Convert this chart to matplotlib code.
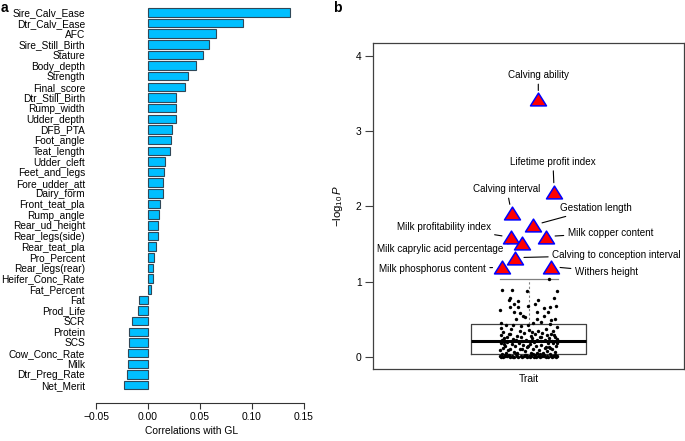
import matplotlib.pyplot as plt
import numpy as np
from matplotlib.path import Path

plt.rcParams['font.family'] = ['Liberation Sans', 'DejaVu Sans']
plt.rcParams['mathtext.fontset'] = 'custom'
plt.rcParams['mathtext.rm'] = 'Liberation Sans'
plt.rcParams['mathtext.it'] = 'Liberation Sans:italic'

# panel a: correlations with GL
traits = ['Sire_Calv_Ease', 'Dtr_Calv_Ease', 'AFC', 'Sire_Still_Birth', 'Stature',
          'Body_depth', 'Strength', 'Final_score', 'Dtr_Still_Birth', 'Rump_width',
          'Udder_depth', 'DFB_PTA', 'Foot_angle', 'Teat_length', 'Udder_cleft',
          'Feet_and_legs', 'Fore_udder_att', 'Dairy_form', 'Front_teat_pla', 'Rump_angle',
          'Rear_ud_height', 'Rear_legs(side)', 'Rear_teat_pla', 'Pro_Percent',
          'Rear_legs(rear)', 'Heifer_Conc_Rate', 'Fat_Percent', 'Fat', 'Prod_Life', 'SCR',
          'Protein', 'SCS', 'Cow_Conc_Rate', 'Milk', 'Dtr_Preg_Rate', 'Net_Merit']
corr = [0.137, 0.091, 0.065, 0.059, 0.053, 0.046, 0.038, 0.036, 0.027, 0.027,
        0.027, 0.023, 0.022, 0.021, 0.016, 0.015, 0.014, 0.014, 0.012, 0.011,
        0.010, 0.010, 0.0074, 0.006, 0.005, 0.005, 0.003, -0.0087, -0.010, -0.015,
        -0.018, -0.018, -0.019, -0.019, -0.020, -0.023]

# panel b: significant traits (triangles)
sig_names = ['Calving ability', 'Lifetime profit index', 'Calving interval',
             'Gestation length', 'Milk profitability index', 'Milk copper content',
             'Milk caprylic acid percentage', 'Calving to conception interval',
             'Milk phosphorus content', 'Withers height']
sig_x = [1.031, 1.082, 0.945, 1.015, 0.943, 1.056, 0.978, 0.956, 0.913, 1.072]
sig_p = [3.42, 2.195, 1.91, 1.75, 1.59, 1.60, 1.52, 1.32, 1.19, 1.20]
lab_x = [1.031, 1.078, 0.930, 1.100, 0.878, 1.126, 0.918, 1.076, 0.862, 1.149]
lab_y = [3.745, 2.594, 2.231, 1.975, 1.730, 1.651, 1.434, 1.351, 1.173, 1.133]
lab_ha = ['center', 'center', 'center', 'left', 'right', 'left', 'right', 'left', 'right', 'left']

# panel b: remaining traits (-log10 P) and jitter
p_hi = [1.04, 0.89, 0.89, 0.88, 0.88, 0.79, 0.79, 0.76, 0.75, 0.76, 0.71, 0.70, 0.66, 0.66,
        0.68, 0.65, 0.66, 0.68, 0.62, 0.60, 0.58, 0.55, 0.60, 0.60, 0.51, 0.53, 0.51, 0.54,
        0.51, 0.49, 0.45, 0.43, 0.42, 0.41, 0.42, 0.45, 0.46, 0.44, 0.40, 0.38, 0.37, 0.35,
        0.36, 0.35, 0.37, 0.34]
j_hi = [0.065, -0.085, -0.054, -0.005, 0.09, -0.061, 0.081, -0.064, -0.035, 0.031, -0.048,
        0.019, -0.061, -0.033, -0.002, 0.048, 0.068, 0.087, -0.093, -0.047, -0.029, -0.018,
        0.027, 0.062, -0.042, -0.011, 0.027, 0.048, 0.084, 0.073, -0.088, -0.072, -0.05,
        -0.024, -0.002, 0.014, 0.041, 0.068, 0.091, -0.088, -0.056, -0.029, 0.001, 0.030,
        0.057, 0.079]
p_mid = [0.33, 0.32, 0.32, 0.31, 0.30, 0.30, 0.29, 0.29, 0.28, 0.28, 0.27, 0.27, 0.26, 0.26,
         0.25, 0.25, 0.25, 0.24, 0.24, 0.23, 0.23, 0.22, 0.22, 0.22, 0.21, 0.21, 0.33, 0.31,
         0.29, 0.27]
j_mid = [-0.081, 0.044, -0.015, 0.072, -0.059, 0.022, -0.090, 0.058, -0.037, 0.006, 0.086,
         -0.068, 0.035, -0.026, -0.078, 0.064, 0.012, -0.049, 0.090, -0.008, 0.051, -0.086,
         0.027, -0.040, 0.076, -0.021, 0.011, -0.064, 0.083, 0.040]
p_low = [0.20, 0.20, 0.19, 0.19, 0.18, 0.18, 0.17, 0.17, 0.16, 0.16, 0.15, 0.15, 0.14, 0.14,
         0.13, 0.13, 0.12, 0.12, 0.11, 0.11, 0.10, 0.10, 0.09, 0.09, 0.08, 0.08, 0.07, 0.07,
         0.06, 0.06, 0.05, 0.05, 0.19, 0.15, 0.12, 0.09, 0.06, 0.17, 0.13, 0.10]
j_low = [-0.070, 0.018, 0.061, -0.031, -0.089, 0.079, 0.004, -0.054, 0.041, -0.017, 0.088,
         -0.075, 0.025, -0.044, 0.066, -0.006, -0.083, 0.052, 0.015, -0.061, 0.074, -0.028,
         0.033, -0.092, 0.058, -0.012, -0.048, 0.086, 0.009, -0.073, 0.045, -0.036, 0.092,
         -0.002, 0.070, -0.066, 0.028, -0.080, 0.055, -0.020]
p_zero = [0.04, 0.04, 0.04, 0.035, 0.035, 0.03, 0.03, 0.03, 0.03, 0.025, 0.025, 0.02, 0.02,
          0.02, 0.02, 0.02, 0.015, 0.015, 0.015, 0.01, 0.01, 0.01, 0.01, 0.01, 0.01, 0.005,
          0.005, 0.005, 0.005, 0.005, 0.0, 0.0, 0.0, 0.0, 0.0, 0.0, 0.0, 0.0, 0.0, 0.0, 0.002,
          0.008, 0.012, 0.018, 0.022]
j_zero = [-0.086, 0.013, 0.067, -0.042, 0.038, -0.064, 0.084, -0.009, 0.049, -0.077, 0.021,
          -0.055, 0.002, 0.071, -0.026, 0.091, -0.091, 0.030, -0.038, 0.060, -0.070, 0.008,
          -0.016, 0.044, 0.081, -0.050, 0.017, -0.083, 0.055, -0.004, -0.060, 0.036, 0.075,
          -0.033, 0.003, -0.088, 0.089, 0.024, -0.046, 0.063, -0.022, 0.050, -0.076, 0.079,
          -0.011]

# box statistics
box_stats = dict(whislo=0.0, q1=0.044, med=0.21, q3=0.44, whishi=1.04, fliers=[])

W, H = 685, 441
fig = plt.figure(figsize=(W / 100, H / 100), dpi=100)


def px_axes(l, t, r, b):
    return fig.add_axes([l / W, 1 - b / H, (r - l) / W, (b - t) / H])


# ---- panel a ----
ax1 = px_axes(90, 3, 310, 403)
y = np.arange(len(traits))
ax1.barh(y, corr, height=0.8, color='#00BFFF', edgecolor='#2f4858', linewidth=0.8)
ax1.set_xlim(-0.05577, 0.15577)
ax1.set_ylim(36.68, -0.873)
ax1.set_yticks(y)
ax1.set_yticklabels(traits, fontsize=7.3)
ax1.tick_params(axis='y', length=0, pad=3.6)
ax1.set_xticks([-0.05, 0.0, 0.05, 0.10, 0.15])
ax1.set_xticklabels(['\u22120.05', '0.00', '0.05', '0.10', '0.15'], fontsize=7.4)
ax1.tick_params(axis='x', length=4.3, width=0.8, pad=2.5, colors='#333333', labelcolor='black')
for s in ['top', 'right', 'left']:
    ax1.spines[s].set_visible(False)
ax1.spines['bottom'].set_bounds(-0.05, 0.15)
ax1.spines['bottom'].set_color('#333333')
ax1.spines['bottom'].set_linewidth(0.8)
fig.text(192 / W, 1 - 431 / H, 'Correlations with GL', fontsize=7.4, ha='center', va='center')

# ---- panel b ----
ax2 = px_axes(373, 43, 684.3, 369.3)
ax2.set_xlim(0.5, 1.5)
ax2.set_ylim(-0.163, 4.17)
ax2.bxp([box_stats], positions=[1], widths=0.37, capwidths=[0.186], showfliers=False,
        boxprops=dict(color='#404040', linewidth=0.9),
        medianprops=dict(color='black', linewidth=2.2),
        whiskerprops=dict(color='#808080', linestyle=(0, (2, 2)), linewidth=0.8),
        capprops=dict(color='#808080', linewidth=0.9))

dot_p = np.array(p_hi + p_mid + p_low + p_zero)
dot_j = np.array(j_hi + j_mid + j_low + j_zero)
ax2.scatter(1 + dot_j, dot_p, s=6, color='black', linewidths=0, zorder=3)

tri = Path([(-1, -0.8), (1, -0.8), (0, 0.8), (-1, -0.8)],
           [Path.MOVETO, Path.LINETO, Path.LINETO, Path.CLOSEPOLY])
ax2.plot(sig_x, sig_p, linestyle='none', marker=tri, markersize=11.5,
         markerfacecolor='#FF0000', markeredgecolor='#0000FF', markeredgewidth=1.1, zorder=5)

for name, sx, sp, lx, ly, ha in zip(sig_names, sig_x, sig_p, lab_x, lab_y, lab_ha):
    ax2.annotate(name, xy=(sx, sp), xytext=(lx, ly), ha=ha, va='center', fontsize=7.1,
                 arrowprops=dict(arrowstyle='-', color='black', lw=0.8,
                                 shrinkA=1, shrinkB=6.5), zorder=4)

ax2.set_xticks([])
ax2.set_yticks([0, 1, 2, 3, 4])
ax2.set_yticklabels(['0', '1', '2', '3', '4'], fontsize=7.4)
ax2.tick_params(axis='y', length=6, width=0.8, pad=2.2, colors='#404040', labelcolor='black')
for s in ax2.spines.values():
    s.set_color('#404040')
    s.set_linewidth(0.9)
fig.text(529 / W, 1 - 379 / H, 'Trait', fontsize=7.4, ha='center', va='center')
fig.text(338 / W, 1 - 206 / H, r'$-\log_{10}P$', fontsize=8.2, ha='center', va='center',
         rotation=90)

fig.text(4 / W, 1 - 8 / H, 'a', fontsize=10, fontweight='bold', ha='center', va='center')
fig.text(337 / W, 1 - 8 / H, 'b', fontsize=10, fontweight='bold', ha='center', va='center')

fig.savefig('out.png', dpi=100)
